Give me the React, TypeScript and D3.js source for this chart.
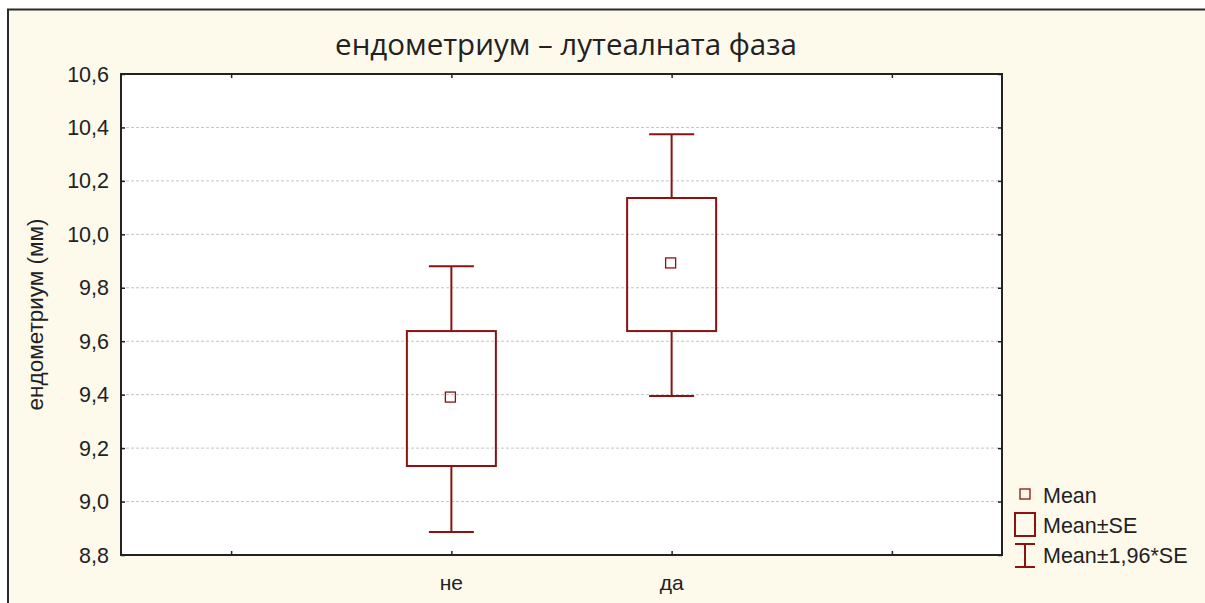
import React, { useEffect, useRef } from "react";
import * as d3 from "d3";

const categories = ["не", "да"];
const means = [9.391, 9.893];
const seLow = [9.133, 9.638];
const seHigh = [9.638, 10.136];
const ciLow = [8.886, 9.395];
const ciHigh = [9.881, 10.375];
const yTicks = [8.8, 9.0, 9.2, 9.4, 9.6, 9.8, 10.0, 10.2, 10.4, 10.6];
const xTickPos = [0.5, 1.5, 2.5, 3.5];
const xTickLabels = ["", "не", "да", ""];
const legendLabels = ["Mean", "Mean±SE", "Mean±1,96*SE"];

const RED = "#8c1111";

const App = () => {
    const svgRef = useRef(null);

    useEffect(() => {
        const svg = d3.select(svgRef.current);
        svg.selectAll("*").remove();

        const W = 1205, H = 603;
        const left = 121, right = 1002, top = 74, bottom = 555;

        // frame
        svg.append("rect").attr("width", W).attr("height", H).attr("fill", "#ffffff");
        svg.append("rect")
            .attr("x", 8).attr("y", 9.5)
            .attr("width", W).attr("height", H)
            .attr("fill", "#fdf9eb")
            .attr("stroke", "#2a2a2a").attr("stroke-width", 2);

        const x = d3.scaleLinear().domain([0, 4]).range([left, right]);
        const y = d3.scaleLinear().domain([8.8, 10.6]).range([bottom, top]);

        svg.append("rect")
            .attr("x", left).attr("y", top)
            .attr("width", right - left).attr("height", bottom - top)
            .attr("fill", "#ffffff");

        // grid
        svg.append("g").selectAll("line")
            .data(yTicks.slice(1, -1))
            .enter().append("line")
            .attr("x1", left).attr("x2", right)
            .attr("y1", d => y(d)).attr("y2", d => y(d))
            .attr("stroke", "#c4c4c4").attr("stroke-width", 1)
            .attr("stroke-dasharray", "3,2");

        const fmt = (d) => d3.format(".1f")(d).replace(".", ",");

        // axes with inward ticks
        const axL = svg.append("g").attr("transform", `translate(${left},0)`)
            .call(d3.axisRight(y).tickValues(yTicks).tickSize(4).tickFormat(() => ""));
        const axR = svg.append("g").attr("transform", `translate(${right},0)`)
            .call(d3.axisLeft(y).tickValues(yTicks).tickSize(4).tickFormat(() => ""));
        const axT = svg.append("g").attr("transform", `translate(0,${top})`)
            .call(d3.axisBottom(x).tickValues(xTickPos).tickSize(4).tickFormat(() => ""));
        const axB = svg.append("g").attr("transform", `translate(0,${bottom})`)
            .call(d3.axisTop(x).tickValues(xTickPos).tickSize(4).tickFormat(() => ""));
        [axL, axR, axT, axB].forEach(a => {
            a.select(".domain").remove();
            a.selectAll("line").attr("stroke", "#222").attr("stroke-width", 1.5);
        });

        svg.append("rect")
            .attr("x", left).attr("y", top)
            .attr("width", right - left).attr("height", bottom - top)
            .attr("fill", "none").attr("stroke", "#222").attr("stroke-width", 2);

        // tick labels
        svg.append("g").selectAll("text")
            .data(yTicks).enter().append("text")
            .attr("x", left - 12).attr("y", d => y(d))
            .attr("dy", "0.35em")
            .attr("text-anchor", "end")
            .attr("font-family", "Liberation Sans, Arial, sans-serif")
            .attr("font-size", 21.5).attr("fill", "#222")
            .text(fmt);

        svg.append("g").selectAll("text")
            .data(xTickPos).enter().append("text")
            .attr("x", d => x(d)).attr("y", bottom + 35)
            .attr("text-anchor", "middle")
            .attr("font-family", "Liberation Sans, Arial, sans-serif")
            .attr("font-size", 21).attr("fill", "#222")
            .text((d, i) => xTickLabels[i]);

        // title
        svg.append("text")
            .attr("x", 566).attr("y", 55)
            .attr("text-anchor", "middle")
            .attr("font-family", "Open Sans, Noto Sans, sans-serif")
            .attr("font-size", 29.5).attr("fill", "#222")
            .text("ендометриум – лутеалната фаза");

        svg.append("text")
            .attr("transform", `translate(43,${(top + bottom) / 2}) rotate(-90)`)
            .attr("text-anchor", "middle")
            .attr("font-family", "Liberation Sans, Arial, sans-serif")
            .attr("font-size", 22.5).attr("fill", "#222")
            .text("ендометриум (мм)");

        // boxes
        const boxW = 89, capW = 45, mk = 10;
        const g = svg.append("g");
        categories.forEach((c, i) => {
            const cx = x(xTickPos[i + 1]);
            g.append("line")
                .attr("x1", cx).attr("x2", cx)
                .attr("y1", y(ciHigh[i])).attr("y2", y(seHigh[i]))
                .attr("stroke", RED).attr("stroke-width", 2);
            g.append("line")
                .attr("x1", cx).attr("x2", cx)
                .attr("y1", y(seLow[i])).attr("y2", y(ciLow[i]))
                .attr("stroke", RED).attr("stroke-width", 2);
            [ciHigh[i], ciLow[i]].forEach(v => {
                g.append("line")
                    .attr("x1", cx - capW / 2).attr("x2", cx + capW / 2)
                    .attr("y1", y(v)).attr("y2", y(v))
                    .attr("stroke", RED).attr("stroke-width", 2);
            });
            g.append("rect")
                .attr("x", cx - boxW / 2).attr("y", y(seHigh[i]))
                .attr("width", boxW).attr("height", y(seLow[i]) - y(seHigh[i]))
                .attr("fill", "none").attr("stroke", RED).attr("stroke-width", 2);
            g.append("rect")
                .attr("x", cx - mk / 2 - 1).attr("y", y(means[i]) - mk / 2)
                .attr("width", mk).attr("height", mk)
                .attr("fill", "none").attr("stroke", RED).attr("stroke-width", 1.3);
        });

        // legend
        const lg = svg.append("g");
        const lx = 1025;
        lg.append("rect").attr("x", lx - 5).attr("y", 489).attr("width", 10).attr("height", 10)
            .attr("fill", "none").attr("stroke", RED).attr("stroke-width", 1.3);
        lg.append("rect").attr("x", lx - 10).attr("y", 513).attr("width", 20).attr("height", 23)
            .attr("fill", "none").attr("stroke", RED).attr("stroke-width", 2);
        lg.append("line").attr("x1", lx - 10).attr("x2", lx + 10).attr("y1", 544).attr("y2", 544)
            .attr("stroke", RED).attr("stroke-width", 2);
        lg.append("line").attr("x1", lx - 10).attr("x2", lx + 10).attr("y1", 567).attr("y2", 567)
            .attr("stroke", RED).attr("stroke-width", 2);
        lg.append("line").attr("x1", lx).attr("x2", lx).attr("y1", 544).attr("y2", 567)
            .attr("stroke", RED).attr("stroke-width", 2);
        legendLabels.forEach((t, i) => {
            lg.append("text")
                .attr("x", 1043).attr("y", 503 + i * 30)
                .attr("font-family", "Liberation Sans, Arial, sans-serif")
                .attr("font-size", 21.5).attr("fill", "#222")
                .text(t);
        });
    }, []);

    return (
        <svg ref={svgRef} width={1205} height={603}
            style={{ position: "absolute", left: 0, top: 0, display: "block" }}></svg>
    );
};

export default App;
